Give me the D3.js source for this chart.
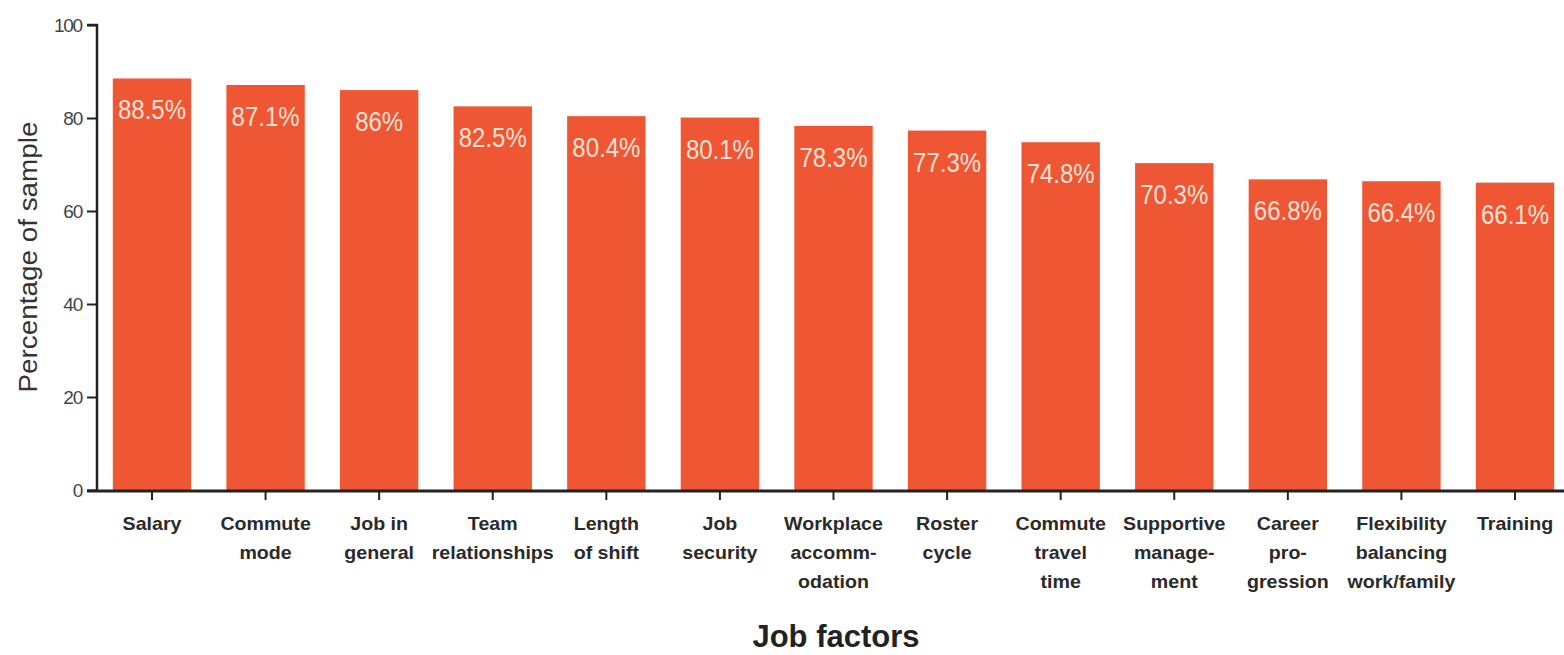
<!DOCTYPE html>
<html>
<head>
<meta charset="utf-8">
<script src="https://cdn.jsdelivr.net/npm/d3@7"></script>
<style>
  body { margin: 0; background: #fff; }
  svg text { font-family: "Liberation Sans", Arial, sans-serif; }
</style>
</head>
<body>
<svg id="chart" width="1564" height="655"></svg>
<script>
// chart data
var factorLabels = [
    ['Salary'],
    ['Commute', 'mode'],
    ['Job in', 'general'],
    ['Team', 'relationships'],
    ['Length', 'of shift'],
    ['Job', 'security'],
    ['Workplace', 'accomm-', 'odation'],
    ['Roster', 'cycle'],
    ['Commute', 'travel', 'time'],
    ['Supportive', 'manage-', 'ment'],
    ['Career', 'pro-', 'gression'],
    ['Flexibility', 'balancing', 'work/family'],
    ['Training']
];
var percentValues = [88.5, 87.1, 86, 82.5, 80.4, 80.1, 78.3, 77.3, 74.8, 70.3, 66.8, 66.4, 66.1];
var valueLabels = ['88.5%', '87.1%', '86%', '82.5%', '80.4%', '80.1%', '78.3%', '77.3%', '74.8%', '70.3%', '66.8%', '66.4%', '66.1%'];
var yTicks = [0, 20, 40, 60, 80, 100];

(function(){
    'use strict';

    var svg = d3.select('#chart'),
        barColor = '#ef5634',
        axisX = 97,
        baseY = 490,
        topY = 25,
        idx = d3.range( percentValues.length );

    var x = d3.scaleBand()
        .domain( idx )
        .range( [95.2, 1571.8] )
        .paddingInner( 0.31 )
        .paddingOuter( 0.155 );

    var y = d3.scaleLinear()
        .domain( [0, 100] )
        .range( [baseY, topY] );

    // bars
    svg.append('g').selectAll('rect')
        .data( idx )
        .enter().append('rect')
        .attr('x', function(i){ return x(i); })
        .attr('y', function(i){ return y(percentValues[i]); })
        .attr('width', x.bandwidth())
        .attr('height', function(i){ return y(0) - y(percentValues[i]); })
        .attr('fill', barColor);

    // value labels inside bars (text in the source is a bit stretched)
    svg.append('g').selectAll('text')
        .data( idx )
        .enter().append('text')
        .attr('transform', function(i){
            return 'translate(' + (x(i) + x.bandwidth() / 2) + ',' + (y(percentValues[i]) + 41) + ') scale(1,1.12)';
        })
        .attr('text-anchor', 'middle')
        .attr('font-size', 24)
        .attr('fill', '#fde2d6')
        .text(function(i){ return valueLabels[i]; });

    // y axis
    var yAxis = svg.append('g')
        .attr('transform', 'translate(' + axisX + ',0)')
        .call( d3.axisLeft(y).tickValues(yTicks).tickSize(10).tickPadding(5) );
    yAxis.select('.domain').attr('stroke', '#222').attr('stroke-width', 2.5)
        .attr('d', 'M-10,' + topY + 'H0V' + (baseY + 1));
    yAxis.selectAll('.tick line').attr('stroke', '#222').attr('stroke-width', 2);
    yAxis.selectAll('.tick text')
        .attr('font-size', 19)
        .attr('fill', '#444')
        .attr('letter-spacing', -1.2);

    // x axis line and ticks
    var xAxis = svg.append('g');
    xAxis.append('line')
        .attr('x1', axisX - 10).attr('x2', 1564)
        .attr('y1', baseY + 1).attr('y2', baseY + 1)
        .attr('stroke', '#222').attr('stroke-width', 3);
    xAxis.selectAll('line.tick')
        .data( idx )
        .enter().append('line')
        .attr('class', 'tick')
        .attr('x1', function(i){ return x(i) + x.bandwidth() / 2; })
        .attr('x2', function(i){ return x(i) + x.bandwidth() / 2; })
        .attr('y1', baseY + 1).attr('y2', baseY + 10)
        .attr('stroke', '#222').attr('stroke-width', 2);

    // category labels, multi line
    xAxis.selectAll('text.cat')
        .data( idx )
        .enter().append('text')
        .attr('class', 'cat')
        .attr('text-anchor', 'middle')
        .attr('font-size', 18)
        .attr('font-weight', 'bold')
        .attr('fill', '#2a2a2a')
        .attr('transform', function(i){
            return 'translate(' + (x(i) + x.bandwidth() / 2) + ',0) scale(1.09,1)';
        })
        .each(function(i){
            var t = d3.select(this);
            factorLabels[i].forEach(function(line, k){
                t.append('tspan')
                    .attr('x', 0)
                    .attr('y', 530 + k * 29)
                    .text(line);
            });
        });

    // axis titles
    svg.append('text')
        .attr('transform', 'translate(37,257) rotate(-90)')
        .attr('text-anchor', 'middle')
        .attr('font-size', 25)
        .attr('textLength', 271)
        .attr('lengthAdjust', 'spacingAndGlyphs')
        .attr('fill', '#333')
        .text('Percentage of sample');

    svg.append('text')
        .attr('x', 836)
        .attr('y', 647)
        .attr('text-anchor', 'middle')
        .attr('font-size', 31)
        .attr('font-weight', 'bold')
        .attr('fill', '#222')
        .text('Job factors');
})();
</script>
</body>
</html>
